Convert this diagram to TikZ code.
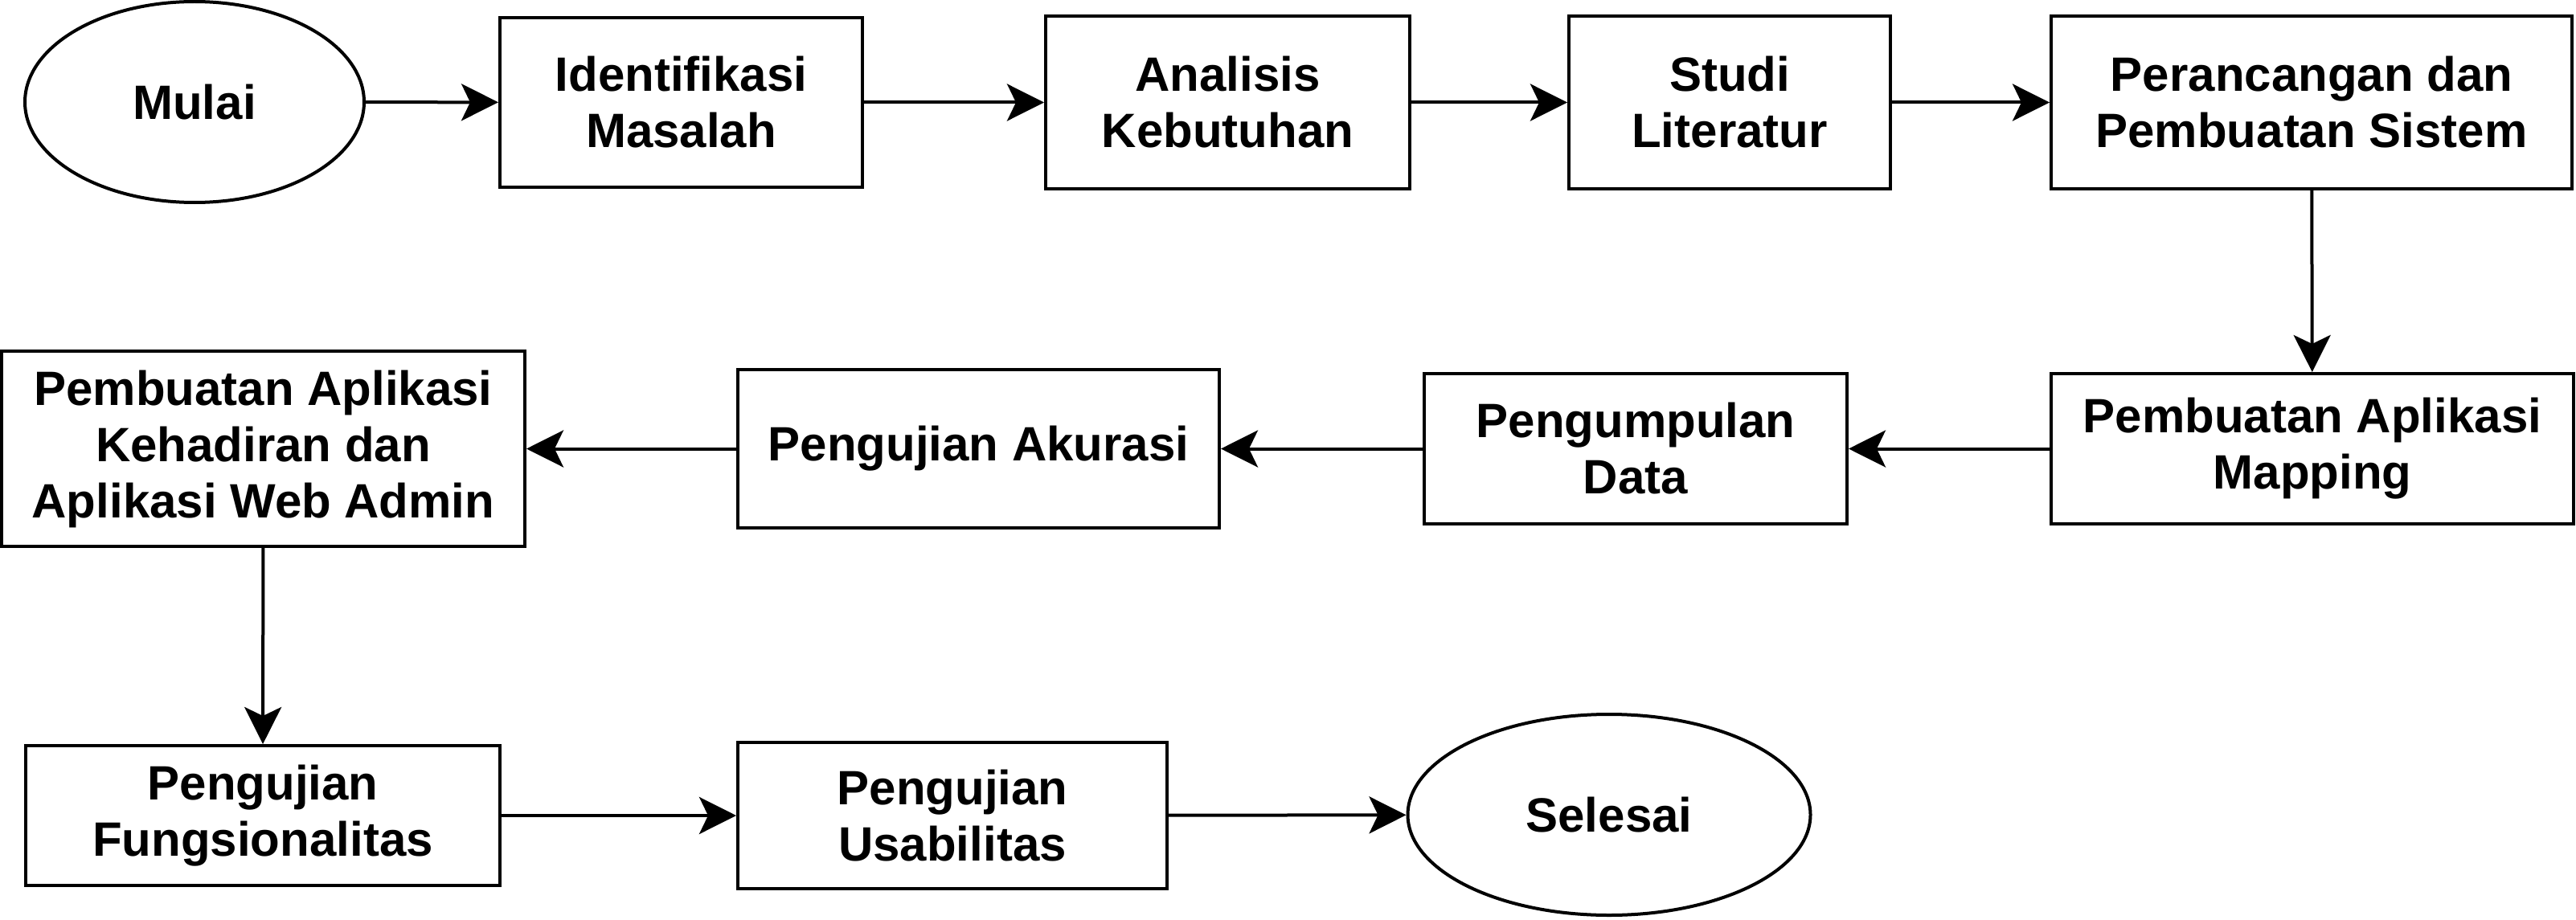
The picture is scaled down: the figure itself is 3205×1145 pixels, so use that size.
\documentclass[tikz,border=0pt]{standalone}
\usepackage{fontspec}
\setmainfont{Liberation Sans}
\usetikzlibrary{arrows.meta,shapes.geometric}
\tikzset{
  base/.style={draw=black,line width=4pt,inner sep=0pt,align=center,
    font=\fontsize{60}{70}\selectfont\bfseries},
  stepbox/.style={base,rectangle},
  termnode/.style={base,ellipse},
  conn/.style={line width=4pt,-{Stealth[length=46pt,width=46pt,inset=11pt]}}
}
\begin{document}
\begin{tikzpicture}[x=1pt,y=-1pt]
\useasboundingbox (0,0) rectangle (3205,1145);
\node[termnode,minimum width=422pt,minimum height=250pt] (mulai) at (242,127) {Mulai};
\node[stepbox,minimum width=451pt,minimum height=211pt] (ident) at (847.5,127.5) {Identifikasi\\Masalah};
\node[stepbox,minimum width=453pt,minimum height=215pt] (anal) at (1527.5,127.5) {Analisis\\Kebutuhan};
\node[stepbox,minimum width=400pt,minimum height=215pt] (studi) at (2152,127.5) {Studi\\Literatur};
\node[stepbox,minimum width=648pt,minimum height=215pt] (peran) at (2876,127.5) {Perancangan dan\\Pembuatan Sistem};
\node[stepbox,minimum width=650pt,minimum height=187pt] (mapping) at (2877,558.5) {Pembuatan Aplikasi\\Mapping};
\node[stepbox,minimum width=526pt,minimum height=187pt] (kumpul) at (2035,558.5) {Pengumpulan\\Data};
\node[stepbox,minimum width=599pt,minimum height=197pt] (akurasi) at (1217.5,558.5) {Pengujian Akurasi};
\node[stepbox,minimum width=651pt,minimum height=243pt] (hadir) at (327.5,558.5) {Pembuatan Aplikasi\\Kehadiran dan\\Aplikasi Web Admin};
\node[stepbox,minimum width=590pt,minimum height=174pt] (fungsi) at (327,1015) {Pengujian\\Fungsionalitas};
\node[stepbox,minimum width=534pt,minimum height=182pt] (usab) at (1185,1015) {Pengujian\\Usabilitas};
\node[termnode,minimum width=501pt,minimum height=250pt] (selesai) at (2002,1014) {Selesai};
\draw[conn] (mulai) -- (ident);
\draw[conn] (ident) -- (anal);
\draw[conn] (anal) -- (studi);
\draw[conn] (studi) -- (peran);
\draw[conn] (peran) -- (mapping);
\draw[conn] (mapping) -- (kumpul);
\draw[conn] (kumpul) -- (akurasi);
\draw[conn] (akurasi) -- (hadir);
\draw[conn] (hadir) -- (fungsi);
\draw[conn] (fungsi) -- (usab);
\draw[conn] (usab) -- (selesai);
\end{tikzpicture}
\end{document}
